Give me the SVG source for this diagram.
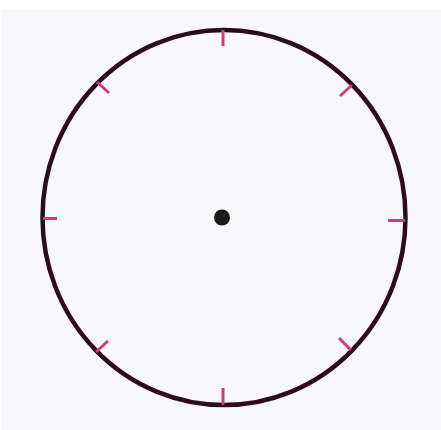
<svg xmlns="http://www.w3.org/2000/svg" width="441" height="430" viewBox="0 0 441 430">
<style>
.tick{stroke:#d13a80;stroke-width:3;stroke-linecap:butt}
.rim{fill:none;stroke:#2b0d1c;stroke-width:4.5}
</style>
<rect x="0" y="0" width="441" height="430" fill="#ffffff"/>
<rect x="1" y="10" width="440" height="420" fill="#f8f8fb"/>
<g id="face">
<ellipse class="rim" cx="224" cy="217.5" rx="181.5" ry="187.5"/>
</g>
<g id="ticks">
<line class="tick" x1="223" y1="30" x2="223" y2="46"/>
<line class="tick" x1="223" y1="405" x2="223" y2="388"/>
<line class="tick" x1="43" y1="218.5" x2="57" y2="218.5"/>
<line class="tick" x1="405" y1="220.5" x2="388" y2="220.5"/>
<line class="tick" x1="97" y1="82" x2="109" y2="93"/>
<line class="tick" x1="352" y1="85" x2="340" y2="96"/>
<line class="tick" x1="96" y1="352" x2="108" y2="341"/>
<line class="tick" x1="351" y1="350" x2="339" y2="338"/>
</g>
<g id="center">
<circle cx="222" cy="217.5" r="8" fill="#1a1a1a"/>
</g>
</svg>
